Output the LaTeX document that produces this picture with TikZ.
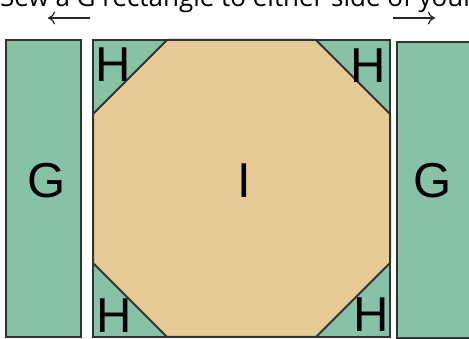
\documentclass[tikz,border=0pt]{standalone}
\usepackage{fontspec}
\usetikzlibrary{arrows.meta}
\setmainfont{Liberation Sans}
\newfontfamily\captfont{Open Sans}
\definecolor{qgreen}{HTML}{88C2A6}
\definecolor{qtan}{HTML}{E6CA96}
\definecolor{qline}{HTML}{333333}
\begin{document}
\begin{tikzpicture}[x=1pt,y=-1pt,
  patch/.style={draw=qline,line width=2pt,line join=miter},
  lbl/.style={font=\fontsize{49}{49}\selectfont,text=black,inner sep=0pt,anchor=base},
  arr/.style={-{To[length=7pt,width=13pt]},line width=1.2pt,color=black!85}]
\useasboundingbox (0,0) rectangle (469,339);
\clip (0,0) rectangle (469,339);
% caption
\node[anchor=base west,inner sep=0pt,font=\captfont\fontsize{26}{26}\selectfont] (cap) at (0,7) {Sew a G rectangle to either side of your};
\coordinate (la1) at (90,18);
\coordinate (la2) at (48,18);
\coordinate (ra1) at (393,18);
\coordinate (ra2) at (435,18);
\draw[arr] (la1) -- (la2);
\draw[arr] (ra1) -- (ra2);
% left G
\draw[patch,fill=qgreen] (6,40) rectangle (81,337);
\node[lbl] (gl) at (46.5,198) {G};
% right G
\draw[patch,fill=qgreen] (397,42) rectangle (480,338);
\node[lbl] (gr) at (433,198) {G};
% centre block
\draw[patch,fill=qgreen] (93,40) rectangle (390,337);
\draw[patch,fill=qtan] (167,40) -- (316,40) -- (390,114) -- (390,263) -- (316,337) -- (167,337) -- (93,263) -- (93,114) -- cycle;
\draw[patch] (93,40) rectangle (390,337);
\node[lbl] (i) at (244.5,198) {I};
\node[lbl] (h1) at (113,82) {H};
\node[lbl] (h2) at (368.5,83) {H};
\node[lbl] (h3) at (114,333) {H};
\node[lbl] (h4) at (371,332) {H};
\end{tikzpicture}
\end{document}
